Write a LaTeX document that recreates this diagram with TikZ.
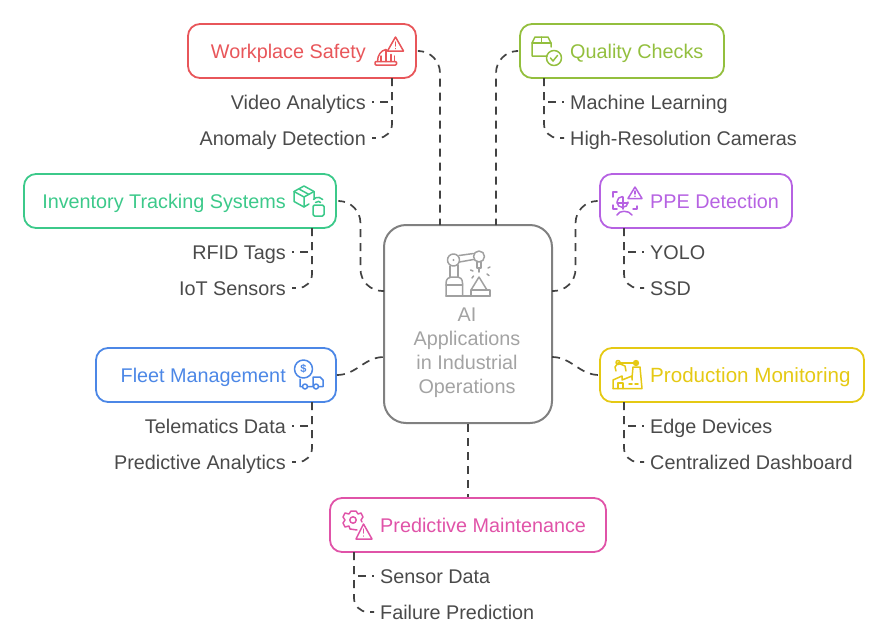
\documentclass[tikz,border=0pt]{standalone}
\usepackage{fontspec}
\setmainfont{Liberation Sans}
\usepackage{tikz}
\usetikzlibrary{calc}

\definecolor{safetycol}{HTML}{E8565A}
\definecolor{qualitycol}{HTML}{93BF3E}
\definecolor{inventorycol}{HTML}{3CC98A}
\definecolor{ppecol}{HTML}{B662E2}
\definecolor{fleetcol}{HTML}{4C87E6}
\definecolor{productioncol}{HTML}{E5C914}
\definecolor{maintenancecol}{HTML}{E053A8}
\definecolor{hubcol}{HTML}{808080}
\definecolor{hubtext}{HTML}{A3A3A3}
\definecolor{linkcol}{HTML}{424242}
\definecolor{leaftext}{HTML}{4A4A4A}

\tikzset{
  box/.style={draw, line width=1.8pt, rounded corners=12pt, minimum height=54pt, inner sep=0pt},
  title/.style={font=\fontsize{19.8}{24}\selectfont, inner sep=0pt, text height=17pt, text depth=2pt},
  leafl/.style={font=\fontsize{19.8}{24}\selectfont, text=leaftext, anchor=west, inner xsep=6pt, inner ysep=0pt, text height=16pt, text depth=2pt},
  leafr/.style={font=\fontsize{19.8}{24}\selectfont, text=leaftext, anchor=east, inner xsep=6pt, inner ysep=0pt, text height=16pt, text depth=2pt},
  link/.style={draw=linkcol, line width=1.7pt, dash pattern=on 8pt off 6pt},
  mainlink/.style={link, rounded corners=22pt},
  twig/.style={link, rounded corners=14pt},
  icon/.style={line width=1.5pt, line join=round, line cap=round, fill=none}
}

\begin{document}
\begin{tikzpicture}[x=1pt, y=-1pt]
  \useasboundingbox (0,0) rectangle (887,643);

  % boxes
  \node[box, draw=hubcol, line width=2pt, rounded corners=22pt, minimum width=168pt, minimum height=198pt] (hub) at (468,324) {};
  \node[box, draw=safetycol, minimum width=228pt] (safety) at (302,51) {};
  \node[box, draw=qualitycol, minimum width=204pt] (quality) at (622,51) {};
  \node[box, draw=inventorycol, minimum width=312pt] (inventory) at (180,201) {};
  \node[box, draw=ppecol, minimum width=192pt] (ppe) at (696,201) {};
  \node[box, draw=fleetcol, minimum width=240pt] (fleet) at (216,375) {};
  \node[box, draw=productioncol, minimum width=264pt] (production) at (732,375) {};
  \node[box, draw=maintenancecol, minimum width=276pt] (maintenance) at (468,525) {};

  % titles
  \node[title, text=safetycol, anchor=east] (safetytitle) at (366,51) {Workplace Safety};
  \node[title, text=qualitycol, anchor=west] (qualitytitle) at (570,51) {Quality Checks};
  \node[title, text=inventorycol, anchor=east] (inventorytitle) at (286,201) {Inventory Tracking Systems};
  \node[title, text=ppecol, anchor=west] (ppetitle) at (650,201) {PPE Detection};
  \node[title, text=fleetcol, anchor=east] (fleettitle) at (286,375) {Fleet Management};
  \node[title, text=productioncol, anchor=west, font=\fontsize{20.6}{24}\selectfont] (productiontitle) at (650,375) {Production Monitoring};
  \node[title, text=maintenancecol, anchor=west] (maintenancetitle) at (380,525) {Predictive Maintenance};
  \node[text=hubtext, align=center, inner sep=0pt, font=\fontsize{19.8}{24}\selectfont] (hubtitle) at (467,352.5) {AI\\Applications\\in Industrial\\Operations};

  % leaves
  \node[leafr] (video) at (372,102) {Video Analytics};
  \node[leafr] (anomaly) at (372,138) {Anomaly Detection};
  \node[leafl] (learning) at (564,102) {Machine Learning};
  \node[leafl] (cameras) at (564,138) {High-Resolution Cameras};
  \node[leafr] (rfid) at (292,252) {RFID Tags};
  \node[leafr] (iot) at (292,288) {IoT Sensors};
  \node[leafl] (yolo) at (644,252) {YOLO};
  \node[leafl] (ssd) at (644,288) {SSD};
  \node[leafr] (telematics) at (292,426) {Telematics Data};
  \node[leafr] (analytics) at (292,462) {Predictive Analytics};
  \node[leafl] (edge) at (644,426) {Edge Devices};
  \node[leafl] (dashboard) at (644,462) {Centralized Dashboard};
  \node[leafl] (sensor) at (374,576) {Sensor Data};
  \node[leafl] (failure) at (374,612) {Failure Prediction};

  % connector ends
  \coordinate (hubtl) at (440,225);
  \coordinate (hubtr) at (496,225);
  \coordinate (hubwa) at (384,291);
  \coordinate (hubwb) at (384,357);
  \coordinate (hubea) at (552,291);
  \coordinate (hubeb) at (552,357);
  \coordinate (safetyt) at (392,78);
  \coordinate (qualityt) at (544,78);
  \coordinate (inventoryt) at (312,228);
  \coordinate (ppet) at (624,228);
  \coordinate (fleett) at (312,402);
  \coordinate (productiont) at (624,402);
  \coordinate (maintenancet) at (354,552);

  % hub to boxes
  \draw[mainlink, shorten <=3pt] (safety.east) -| (hubtl);
  \draw[mainlink, shorten <=3pt] (quality.west) -| (hubtr);
  \draw[mainlink, shorten <=3pt] (inventory.east) -| ($(inventory.east)!.5!(hubwa)$) |- (hubwa);
  \draw[mainlink, shorten <=3pt] (ppe.west) -| ($(ppe.west)!.5!(hubea)$) |- (hubea);
  \draw[link] (fleet.east) to[out=0, in=180] (hubwb);
  \draw[link] (hubeb) to[out=0, in=180] (production.west);
  \draw[link] (hub.south) -- (maintenance.north);

  % boxes to leaves
  \draw[link] (safetyt) |- (video);
  \draw[twig] (safetyt) |- (anomaly);
  \draw[link] (qualityt) |- (learning);
  \draw[twig] (qualityt) |- (cameras);
  \draw[link] (inventoryt) |- (rfid);
  \draw[twig] (inventoryt) |- (iot);
  \draw[link] (ppet) |- (yolo);
  \draw[twig] (ppet) |- (ssd);
  \draw[link] (fleett) |- (telematics);
  \draw[twig] (fleett) |- (analytics);
  \draw[link] (productiont) |- (edge);
  \draw[twig] (productiont) |- (dashboard);
  \draw[link] (maintenancet) |- (sensor);
  \draw[twig] (maintenancet) |- (failure);

  % safety icon
  \draw[icon, draw=safetycol] (395.5,37) -- (403.5,51) -- (387.5,51) -- cycle;
  \draw[icon, draw=safetycol] (395.5,42) -- (395.5,46) (395.5,48.5) -- (395.5,48.6);
  \draw[icon, draw=safetycol, rounded corners=1pt] (375,61.5) rectangle (396.5,65);
  \draw[icon, draw=safetycol] (377.5,61.5) .. controls (377.5,55) and (381,50.5) .. (386,49.5);
  \draw[icon, draw=safetycol] (381,61.5) -- (381,56) (386,61.5) -- (386,49.5) (391,61.5) -- (391,54.5) (394.5,61.5) -- (394.5,56);

  % quality icon
  \draw[icon, draw=qualitycol] (547,56) -- (532,56) -- (532,43) -- (535,37) -- (548,37) -- (551,43) -- (551,47);
  \draw[icon, draw=qualitycol] (532,43) -- (551,43) (541.5,37) -- (541.5,43);
  \draw[icon, draw=qualitycol] (554,58) circle (7.5);
  \draw[icon, draw=qualitycol] (550.5,58) -- (553,61) -- (557.5,55.5);

  % inventory icon
  \draw[icon, draw=inventorycol] (304,186) -- (314,191.5) -- (314,199) (304,207) -- (294,201.5) -- (294,191.5) -- (304,186);
  \draw[icon, draw=inventorycol] (294,191.5) -- (304,197) -- (314,191.5) (304,197) -- (304,207) -- (309,204);
  \draw[icon, draw=inventorycol] (299,189) -- (309,194.5);
  \draw[icon, draw=inventorycol, rounded corners=1.5pt] (313,205) rectangle (324,216);
  \draw[icon, draw=inventorycol] (315.5,202.5) arc[start angle=-140, end angle=-40, radius=3.3];
  \draw[icon, draw=inventorycol] (313.5,199.5) arc[start angle=-140, end angle=-40, radius=6];

  % ppe icon
  \draw[icon, draw=ppecol] (617,192) -- (613,192) -- (613,197) (613,205) -- (613,209) -- (617,209) (633,209) -- (637,209) -- (637,206);
  \draw[icon, draw=ppecol] (628,202) arc[start angle=0, end angle=270, radius=5.5];
  \draw[icon, draw=ppecol] (617,203) -- (628,203) (623,197) -- (623,209);
  \draw[icon, draw=ppecol] (635,187) -- (642,198.5) -- (628,198.5) -- cycle;
  \draw[icon, draw=ppecol] (635,191) -- (635,194) (635,196.2) -- (635,196.3);
  \draw[icon, draw=ppecol] (617,215) .. controls (619,210) and (629,210) .. (632,215);

  % fleet icon
  \draw[icon, draw=fleetcol] (303.5,369) circle (9);
  \node[font=\fontsize{11}{11}\selectfont\bfseries, text=fleetcol, inner sep=0pt] (dollar) at (303.5,369) {\$};
  \draw[icon, draw=fleetcol] (302,386.5) -- (300,386.5) -- (300,379) (308,386.5) -- (313,386.5) (319,386.5) -- (323,386.5) -- (323,380) -- (320,377) -- (313,377) -- (313,386.5);
  \draw[icon, draw=fleetcol] (305,386.5) circle (2.5) (316,386.5) circle (2.5);

  % production icon
  \draw[icon, draw=productioncol] (613,388.5) -- (642,388.5) -- (640,367) -- (633,367) -- (632,378);
  \draw[icon, draw=productioncol] (613,388.5) -- (613,380) -- (622,376) -- (622,380) -- (632,376) -- (632,380);
  \draw[icon, draw=productioncol] (618,388.5) -- (618,383) -- (623,383) -- (623,388.5) (629,384) -- (632,384) (635,384) -- (638,384);
  \draw[icon, draw=productioncol] (618,363) -- (636,363);
  \fill[productioncol] (636,363) circle (3.2);
  \draw[icon, draw=productioncol] (618,363) -- (615,367) -- (616,371) (618,363) -- (625,366) -- (626,371);
  \draw[icon, draw=productioncol] (618,362.5) circle (2);

  % maintenance icon
  \draw[icon, draw=maintenancecol] (353,520) circle (3.2);
  \draw[icon, draw=maintenancecol] (357,530) -- (350,529) -- (349,526) -- (345,527) -- (343,523) -- (345,520) -- (343,517) -- (345,513) -- (349,514) -- (351,511) -- (356,511) -- (358,514) -- (361,513) -- (363,517) -- (361,520) -- (362,522);
  \draw[icon, draw=maintenancecol] (363.5,524) -- (372,539) -- (356,539) -- cycle;
  \draw[icon, draw=maintenancecol] (363.5,529) -- (363.5,533) (363.5,536) -- (363.5,536.1);

  % hub icon
  \draw[icon, draw=hubcol!75!white] (446,296) -- (490,296);
  \draw[icon, draw=hubcol!75!white] (446,296) -- (446,283) .. controls (446,279) and (449,277) .. (451,277) -- (458,277) .. controls (460,277) and (462.5,279) .. (462.5,283) -- (462.5,296);
  \draw[icon, draw=hubcol!75!white] (446,285) -- (462.5,285);
  \draw[icon, draw=hubcol!75!white] (450,277) -- (450,266) (458,277) -- (458,265);
  \draw[icon, draw=hubcol!75!white] (453.5,260) circle (6);
  \draw[icon, draw=hubcol!75!white] (479,256.5) circle (5.5);
  \draw[icon, draw=hubcol!75!white] (459,255.5) -- (473.5,253.5) (459.5,262) -- (473.5,259.5);
  \draw[icon, draw=hubcol!75!white] (477,262) -- (477,268) -- (481,268) -- (481,262) (479,268) -- (479,272);
  \draw[icon, draw=hubcol!75!white] (470.5,270) -- (473,271) (488,268) -- (490,267) (472,278) -- (473.5,276) (487,274) -- (489,275.5);
  \draw[icon, draw=hubcol!75!white] (479,277) -- (487,290) -- (471,290) -- cycle;
  \draw[icon, draw=hubcol!75!white] (471,290) -- (471,296) (490,296) -- (490,290) -- (471,290);
  \fill[hubcol!75!white] (453.5,260) circle (1.2);
\end{tikzpicture}
\end{document}
